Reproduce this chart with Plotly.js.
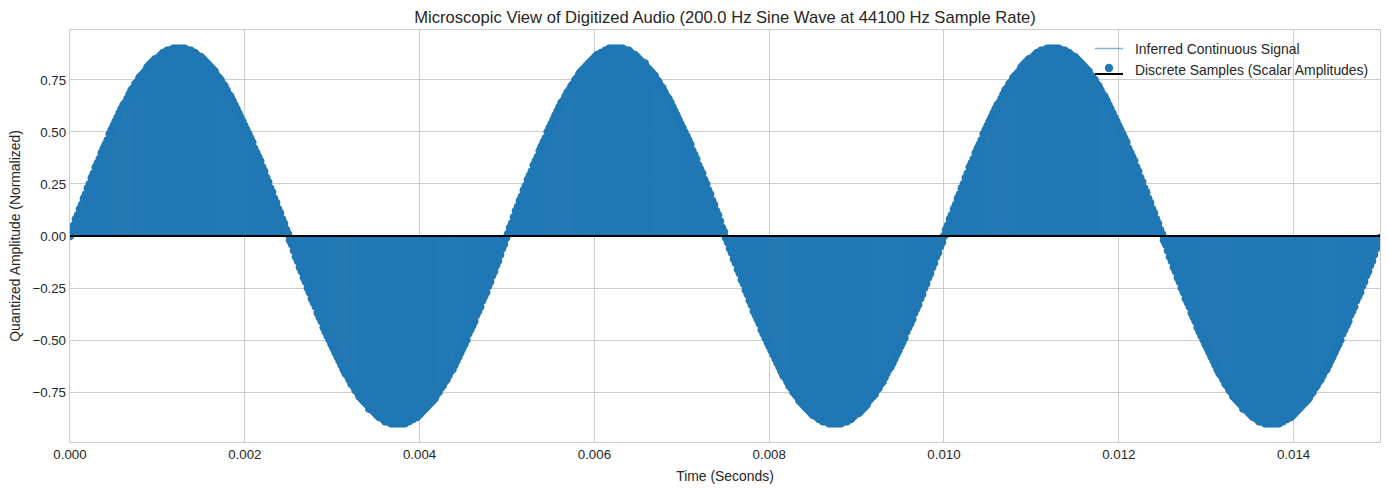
<!DOCTYPE html>
<html>
<head>
<meta charset="utf-8">
<script src="https://cdn.plot.ly/plotly-3.0.1.min.js"></script>
<style>
  html, body { margin: 0; padding: 0; background: #ffffff; }
  #chart { width: 1389px; height: 490px; }
</style>
</head>
<body>
<div id="chart"></div>
<script>
// ---- Data (normalized amplitudes of each discrete sample) ----
const sampleRateHz = 44100;
const signalFrequencyHz = 200.0;

// samples n = 0 .. 220
const samplesPart1 = [
0.00,0.03,0.05,0.08,0.10,0.13,0.15,0.18,0.20,0.23,0.25,0.28,0.30,0.33,0.35,0.37,0.40,0.42,0.44,0.46,
0.49,0.51,0.53,0.55,0.57,0.59,0.61,0.63,0.64,0.66,0.68,0.70,0.71,0.73,0.74,0.76,0.77,0.78,0.79,0.81,
0.82,0.83,0.84,0.85,0.85,0.86,0.87,0.88,0.88,0.89,0.89,0.89,0.90,0.90,0.90,0.90,
0.90,0.90,0.90,0.89,0.89,0.89,0.88,0.88,0.87,0.86,0.86,0.85,0.84,0.83,0.82,0.81,0.80,0.79,0.77,0.76,
0.75,0.73,0.72,0.70,0.68,0.67,0.65,0.63,0.61,0.59,0.57,0.55,0.53,0.51,0.49,0.47,0.45,0.42,0.40,0.38,
0.36,0.33,0.31,0.28,0.26,0.23,0.21,0.18,0.16,0.13,0.11,0.08,0.06,0.03,0.01,
-0.02,-0.04,-0.07,-0.10,-0.12,-0.15,-0.17,-0.20,-0.22,-0.25,-0.27,-0.30,-0.32,-0.34,-0.37,-0.39,-0.41,-0.44,-0.46,-0.48,
-0.50,-0.52,-0.54,-0.56,-0.58,-0.60,-0.62,-0.64,-0.66,-0.67,-0.69,-0.71,-0.72,-0.74,-0.75,-0.77,-0.78,-0.79,-0.80,-0.81,
-0.83,-0.83,-0.84,-0.85,-0.86,-0.87,-0.87,-0.88,-0.89,-0.89,-0.89,-0.90,-0.90,-0.90,-0.90,
-0.90,-0.90,-0.90,-0.90,-0.89,-0.89,-0.88,-0.88,-0.87,-0.87,-0.86,-0.85,-0.84,-0.83,-0.82,-0.81,-0.80,-0.79,-0.78,-0.76,
-0.75,-0.73,-0.72,-0.70,-0.69,-0.67,-0.65,-0.64,-0.62,-0.60,-0.58,-0.56,-0.54,-0.52,-0.50,-0.47,-0.45,-0.43,-0.41,-0.38,
-0.36,-0.34,-0.31,-0.29,-0.27,-0.24,-0.22,-0.19,-0.17,-0.14,-0.12,-0.09,-0.06,-0.04,-0.01
];

// samples n = 221 .. 440
const samplesPart2 = [
0.01,0.04,0.06,0.09,0.12,0.14,0.17,0.19,0.22,0.24,0.27,0.29,0.31,0.34,0.36,0.38,0.41,0.43,0.45,0.47,
0.50,0.52,0.54,0.56,0.58,0.60,0.62,0.64,0.65,0.67,0.69,0.70,0.72,0.73,0.75,0.76,0.78,0.79,0.80,0.81,
0.82,0.83,0.84,0.85,0.86,0.87,0.87,0.88,0.88,0.89,0.89,0.90,0.90,0.90,0.90,
0.90,0.90,0.90,0.90,0.89,0.89,0.89,0.88,0.87,0.87,0.86,0.85,0.84,0.83,0.83,0.81,0.80,0.79,0.78,0.77,
0.75,0.74,0.72,0.71,0.69,0.67,0.66,0.64,0.62,0.60,0.58,0.56,0.54,0.52,0.50,0.48,0.46,0.44,0.41,0.39,
0.37,0.34,0.32,0.30,0.27,0.25,0.22,0.20,0.17,0.15,0.12,0.10,0.07,0.04,0.02,
-0.01,-0.03,-0.06,-0.08,-0.11,-0.13,-0.16,-0.18,-0.21,-0.23,-0.26,-0.28,-0.31,-0.33,-0.36,-0.38,-0.40,-0.42,-0.45,-0.47,
-0.49,-0.51,-0.53,-0.55,-0.57,-0.59,-0.61,-0.63,-0.65,-0.67,-0.68,-0.70,-0.72,-0.73,-0.75,-0.76,-0.77,-0.79,-0.80,-0.81,
-0.82,-0.83,-0.84,-0.85,-0.86,-0.86,-0.87,-0.88,-0.88,-0.89,-0.89,-0.89,-0.90,-0.90,-0.90,
-0.90,-0.90,-0.90,-0.90,-0.89,-0.89,-0.89,-0.88,-0.88,-0.87,-0.86,-0.85,-0.85,-0.84,-0.83,-0.82,-0.81,-0.79,-0.78,-0.77,
-0.76,-0.74,-0.73,-0.71,-0.70,-0.68,-0.66,-0.64,-0.63,-0.61,-0.59,-0.57,-0.55,-0.53,-0.51,-0.49,-0.46,-0.44,-0.42,-0.40,
-0.37,-0.35,-0.33,-0.30,-0.28,-0.25,-0.23,-0.20,-0.18,-0.15,-0.13,-0.10,-0.08,-0.05,-0.03
];

// samples n = 441 .. 661
const samplesPart3 = [
0.00,0.03,0.05,0.08,0.10,0.13,0.15,0.18,0.20,0.23,0.25,0.28,0.30,0.33,0.35,0.37,0.40,0.42,0.44,0.46,
0.49,0.51,0.53,0.55,0.57,0.59,0.61,0.63,0.64,0.66,0.68,0.70,0.71,0.73,0.74,0.76,0.77,0.78,0.79,0.81,
0.82,0.83,0.84,0.85,0.85,0.86,0.87,0.88,0.88,0.89,0.89,0.89,0.90,0.90,0.90,0.90,
0.90,0.90,0.90,0.89,0.89,0.89,0.88,0.88,0.87,0.86,0.86,0.85,0.84,0.83,0.82,0.81,0.80,0.79,0.77,0.76,
0.75,0.73,0.72,0.70,0.68,0.67,0.65,0.63,0.61,0.59,0.57,0.55,0.53,0.51,0.49,0.47,0.45,0.42,0.40,0.38,
0.36,0.33,0.31,0.28,0.26,0.23,0.21,0.18,0.16,0.13,0.11,0.08,0.06,0.03,0.01,
-0.02,-0.04,-0.07,-0.10,-0.12,-0.15,-0.17,-0.20,-0.22,-0.25,-0.27,-0.30,-0.32,-0.34,-0.37,-0.39,-0.41,-0.44,-0.46,-0.48,
-0.50,-0.52,-0.54,-0.56,-0.58,-0.60,-0.62,-0.64,-0.66,-0.67,-0.69,-0.71,-0.72,-0.74,-0.75,-0.77,-0.78,-0.79,-0.80,-0.81,
-0.83,-0.83,-0.84,-0.85,-0.86,-0.87,-0.87,-0.88,-0.89,-0.89,-0.89,-0.90,-0.90,-0.90,-0.90,
-0.90,-0.90,-0.90,-0.90,-0.89,-0.89,-0.88,-0.88,-0.87,-0.87,-0.86,-0.85,-0.84,-0.83,-0.82,-0.81,-0.80,-0.79,-0.78,-0.76,
-0.75,-0.73,-0.72,-0.70,-0.69,-0.67,-0.65,-0.64,-0.62,-0.60,-0.58,-0.56,-0.54,-0.52,-0.50,-0.47,-0.45,-0.43,-0.41,-0.38,
-0.36,-0.34,-0.31,-0.29,-0.27,-0.24,-0.22,-0.19,-0.17,-0.14,-0.12,-0.09,-0.06,-0.04,-0.01
];

const xTickVals = [0.000, 0.002, 0.004, 0.006, 0.008, 0.010, 0.012, 0.014];
const yTickVals = [-0.75, -0.50, -0.25, 0.00, 0.25, 0.50, 0.75];
const yAxisRange = [-0.99, 0.99];

const titleText = "Microscopic View of Digitized Audio (" + signalFrequencyHz.toFixed(1) +
  " Hz Sine Wave at " + sampleRateHz + " Hz Sample Rate)";
const legendLabels = ["Inferred Continuous Signal", "Discrete Samples (Scalar Amplitudes)"];

// ---- Build traces ----
const samples = samplesPart1.concat(samplesPart2, samplesPart3);
const dt = 1 / sampleRateHz;
const tEnd = (samples.length - 1) * dt;

const stemUp = samples.map(v => v < 0 ? -v : 0);     // stems of negative samples go up to 0
const stemDown = samples.map(v => v > 0 ? v : 0);    // stems of positive samples go down to 0

const FONT = '"Liberation Sans", Arial, "DejaVu Sans", sans-serif';
const TEXT = '#262626';
const BLUE = '#1f77b4';

const traces = [
  {
    type: 'scatter', mode: 'lines', name: legendLabels[0],
    y: samples, x0: 0, dx: dt,
    line: { color: 'rgba(31,119,180,0.55)', width: 1.5 },
    showlegend: false, hoverinfo: 'skip'
  },
  {
    type: 'scatter', mode: 'markers', name: legendLabels[1],
    y: samples, x0: 0, dx: dt,
    marker: { color: BLUE, size: 8.5, line: { width: 0 } },
    error_y: {
      type: 'data', symmetric: false, array: stemUp, arrayminus: stemDown,
      color: BLUE, thickness: 2.6, width: 0
    },
    showlegend: false
  },
  {
    type: 'scatter', mode: 'lines', name: 'baseline',
    y: samples.map(() => 0), x0: 0, dx: dt,
    line: { color: '#000000', width: 2 },
    showlegend: false, hoverinfo: 'skip'
  }
];

// ---- Manual legend (frameless, upper right, like the reference) ----
const L = 70, R = 1380, T = 30, B = 442;
const px = x => (x - L) / (R - L);
const py = y => (B - y) / (B - T);

const shapes = [
  { type: 'line', xref: 'paper', yref: 'paper', x0: px(1095), x1: px(1123), y0: py(48.5), y1: py(48.5),
    line: { color: 'rgba(31,119,180,0.55)', width: 1.5 } },
  { type: 'line', xref: 'paper', yref: 'paper', x0: px(1095), x1: px(1123), y0: py(74), y1: py(74),
    line: { color: '#000000', width: 2 } },
  { type: 'circle', xref: 'paper', yref: 'paper', xsizemode: 'pixel', ysizemode: 'pixel',
    xanchor: px(1109), yanchor: py(68), x0: -4.2, x1: 4.2, y0: -4.2, y1: 4.2,
    fillcolor: BLUE, line: { width: 0 } }
];

const annotations = [
  { xref: 'paper', yref: 'paper', x: px(1133), y: py(48.5), xanchor: 'left', yanchor: 'middle',
    text: legendLabels[0], showarrow: false, font: { family: FONT, size: 13.9, color: TEXT } },
  { xref: 'paper', yref: 'paper', x: px(1133), y: py(70), xanchor: 'left', yanchor: 'middle',
    text: legendLabels[1], showarrow: false, font: { family: FONT, size: 13.9, color: TEXT } }
];

const layout = {
  width: 1389, height: 490,
  margin: { l: L, r: 1389 - R, t: T, b: 490 - B, pad: 0 },
  paper_bgcolor: '#ffffff', plot_bgcolor: '#ffffff',
  font: { family: FONT, size: 13, color: TEXT },
  showlegend: false,
  title: {
    text: titleText, font: { family: FONT, size: 16.6, color: TEXT },
    x: 0.5, xref: 'paper', xanchor: 'center',
    y: 1 - 17 / 490, yref: 'container', yanchor: 'middle'
  },
  xaxis: {
    range: [0, tEnd], tickvals: xTickVals, tickformat: '.3f',
    showgrid: true, gridcolor: '#cccccc', gridwidth: 1,
    zeroline: false, showline: true, linecolor: '#cccccc', linewidth: 1.3, mirror: true,
    ticks: '', tickfont: { family: FONT, size: 13.3, color: TEXT },
    title: { text: 'Time (Seconds)', font: { family: FONT, size: 13.9, color: TEXT }, standoff: 10 }
  },
  yaxis: {
    range: yAxisRange, tickvals: yTickVals, tickformat: '.2f',
    showgrid: true, gridcolor: '#cccccc', gridwidth: 1,
    zeroline: false, showline: true, linecolor: '#cccccc', linewidth: 1.3, mirror: true,
    ticks: '', tickfont: { family: FONT, size: 13.3, color: TEXT },
    title: { text: 'Quantized Amplitude (Normalized)', font: { family: FONT, size: 13.9, color: TEXT }, standoff: 8 }
  },
  shapes: shapes,
  annotations: annotations
};

Plotly.newPlot('chart', traces, layout, { displayModeBar: false, staticPlot: true });
</script>
</body>
</html>
